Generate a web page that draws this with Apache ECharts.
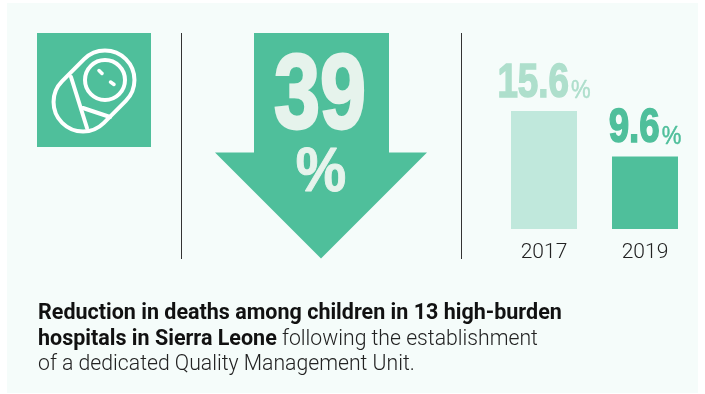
<!DOCTYPE html>
<html><head><meta charset="utf-8">
<style>html,body{margin:0;padding:0;background:#fff}#c{width:705px;height:394px}</style>
<script src="https://cdn.jsdelivr.net/npm/echarts@6/dist/echarts.min.js"></script>
</head><body><div id="c"></div>
<script>
const years = ['2017', '2019'];
const rates = [15.6, 9.6];
const reduction = '39';
const caption1 = 'Reduction in deaths among children in 13 high-burden';
const caption2a = 'hospitals in Sierra Leone';
const caption2b = ' following the establishment';
const caption3 = 'of a dedicated Quality Management Unit.';

const green = '#4fbf9b', light = '#c0e8dc', pale = '#aedfcc', cream = '#e6f3ec';
const heavy = '"Liberation Sans",sans-serif';
const ink = {stroke: '#fff', lineWidth: 4, fill: 'none', lineCap: 'round'};
const line = (x1, y1, x2, y2, w) => ({type: 'line', z: 2, shape: {x1, y1, x2, y2}, style: {stroke: '#fff', lineWidth: w || 4, lineCap: 'round'}, silent: true});
const bigFont = 'bold 49px ' + heavy, smallFont = '26px ' + heavy;
const ctx = document.createElement('canvas').getContext('2d');
const widthOf = (t, f) => { ctx.font = f; return ctx.measureText(t).width; };

const chart = echarts.init(document.getElementById('c'), null, {renderer: 'canvas'});
chart.setOption({
  animation: false,
  backgroundColor: '#fff',
  grid: {left: 493.5, width: 202, top: 111, height: 118},
  xAxis: {type: 'category', data: years, axisLine: {show: false}, axisTick: {show: false},
    axisLabel: {fontFamily: 'Roboto', fontWeight: 300, fontSize: 21, color: '#222', margin: 13}},
  yAxis: {type: 'value', min: 0, max: 15.6, show: false, splitLine: {show: false}},
  series: [{
    type: 'bar', barWidth: 66, z: 5,
    data: rates.map((v, i) => ({value: v, itemStyle: {color: i === 0 ? light : green}}))
  }, {
    type: 'custom', z: 6, silent: true, data: rates.map((v, i) => [i, v]),
    renderItem: (params, api) => {
      const p = api.coord([api.value(0), api.value(1)]);
      const col = params.dataIndex === 0 ? pale : green;
      const t = String(api.value(1));
      const nw = widthOf(t, bigFont) * 0.75, pw = widthOf('%', smallFont) * 0.85;
      const left = p[0] - (nw + 2 + pw) / 2;
      const cy = p[1] - 28;
      return {type: 'group', children: [
        {type: 'text', x: left, y: cy, scaleX: 0.75, style: {text: t, font: bigFont, fill: col, stroke: col, lineWidth: 1.6, textAlign: 'left', verticalAlign: 'middle'}},
        {type: 'text', x: left + nw + 2, y: cy + 8, scaleX: 0.85, style: {text: '%', font: smallFont, fill: col, stroke: col, lineWidth: 0.5, textAlign: 'left', verticalAlign: 'middle'}}
      ]};
    }
  }],
  graphic: [
    {type: 'rect', z: -10, shape: {x: 7, y: 3, width: 691, height: 390}, style: {fill: '#f5fcfa'}, silent: true},
    {type: 'line', shape: {x1: 181.5, y1: 33, x2: 181.5, y2: 259}, style: {stroke: '#333', lineWidth: 1}, silent: true},
    {type: 'line', shape: {x1: 461.5, y1: 33, x2: 461.5, y2: 259}, style: {stroke: '#333', lineWidth: 1}, silent: true},
    {type: 'rect', shape: {x: 37, y: 33, width: 114, height: 114}, style: {fill: green}, silent: true},
    {type: 'rect', z: 2, x: 94, y: 91, rotation: -Math.PI / 4, shape: {x: -29.5, y: -45, width: 59, height: 90, r: 29.5}, style: ink, silent: true},
    {type: 'circle', z: 2, shape: {cx: 105, cy: 80, r: 20}, style: ink, silent: true},
    line(71, 77, 87, 128),
    line(83, 108, 110, 117),
    line(99, 70.5, 102, 73.5, 3.5),
    line(110.5, 82, 114, 84.5, 3.5),
    {type: 'polygon', shape: {points: [[254, 33], [389, 33], [389, 152.5], [427, 152.5], [321, 258.5], [215, 152.5], [254, 152.5]]}, style: {fill: green}, silent: true},
    {type: 'text', z: 3, x: 320, y: 99, scaleX: 0.78, style: {text: reduction, font: 'bold 106px ' + heavy, fill: cream, stroke: cream, lineWidth: 3, textAlign: 'center', verticalAlign: 'middle'}, silent: true},
    {type: 'text', z: 3, x: 321, y: 174, scaleX: 0.9, style: {text: '%', font: 'bold 63px ' + heavy, fill: cream, stroke: cream, lineWidth: 1, textAlign: 'center', verticalAlign: 'middle'}, silent: true},
    {type: 'text', z: 3, x: 38, y: 314, style: {text: caption1, font: 'bold 21.5px Roboto', fill: '#111', verticalAlign: 'middle'}, silent: true},
    {type: 'text', z: 3, x: 38, y: 339.5, style: {text: '{b|' + caption2a + '}{l|' + caption2b + '}', verticalAlign: 'middle',
      rich: {b: {font: 'bold 21.5px Roboto', fill: '#111'}, l: {font: '300 21.2px Roboto', fill: '#222'}}}, silent: true},
    {type: 'text', z: 3, x: 38, y: 365, style: {text: caption3, font: '300 21.2px Roboto', fill: '#222', verticalAlign: 'middle'}, silent: true}
  ]
});
</script></body></html>
